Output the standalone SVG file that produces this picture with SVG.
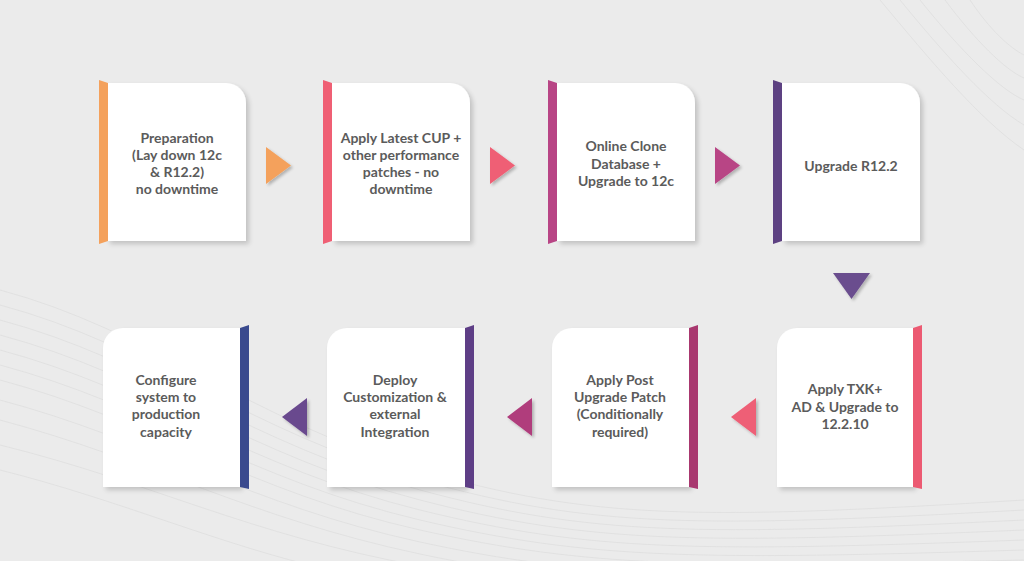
<svg xmlns="http://www.w3.org/2000/svg" width="1024" height="561" viewBox="0 0 1024 561">
<style>
.card{fill:#ffffff;}
.lbl{font-family:Lato,"Open Sans","Liberation Sans",sans-serif;font-weight:bold;font-size:14px;fill:#5b5b5b;text-anchor:middle;}
.wave{fill:none;stroke:#dcdcdc;stroke-width:0.7;}
</style>
<defs>
<filter id="sh" x="-10%" y="-10%" width="125%" height="125%">
<feGaussianBlur in="SourceAlpha" stdDeviation="2.5"/>
<feOffset dx="3" dy="3" result="b"/>
<feComponentTransfer><feFuncA type="linear" slope="0.18"/></feComponentTransfer>
<feMerge><feMergeNode/><feMergeNode in="SourceGraphic"/></feMerge>
</filter>
<filter id="ash" x="-30%" y="-30%" width="160%" height="160%">
<feGaussianBlur in="SourceAlpha" stdDeviation="1.5"/>
<feOffset dx="2" dy="2" result="b"/>
<feComponentTransfer><feFuncA type="linear" slope="0.25"/></feComponentTransfer>
<feMerge><feMergeNode/><feMergeNode in="SourceGraphic"/></feMerge>
</filter>
</defs>
<rect width="1024" height="561" fill="#ebebeb"/>
<g id="background-waves">
<path class="wave" d="M0,290 C150,330 250,420 420,470 S700,520 1024,500"/>
<path class="wave" d="M0,305 C150,345 250,432 420,480 S700,528 1024,510"/>
<path class="wave" d="M0,320 C150,360 250,444 420,490 S700,536 1024,520"/>
<path class="wave" d="M0,335 C150,375 250,456 420,500 S700,544 1024,530"/>
<path class="wave" d="M0,350 C150,390 250,468 420,510 S700,552 1024,540"/>
<path class="wave" d="M0,365 C150,405 250,480 420,520 S700,560 1024,550"/>
<path class="wave" d="M0,380 C150,420 250,492 420,530 S700,568 1024,560"/>
<path class="wave" d="M0,400 C150,440 250,505 420,542 S700,578 1024,572"/>
<path class="wave" d="M0,420 C150,460 250,518 420,554 S700,590 1024,585"/>
<path class="wave" d="M0,445 C150,482 250,535 420,566"/>
<path class="wave" d="M0,470 C120,500 220,545 330,570"/>
<path class="wave" d="M880,0 C930,60 980,120 1024,150"/>
<path class="wave" d="M900,0 C945,55 990,105 1024,125"/>
<path class="wave" d="M920,0 C960,50 1000,90 1024,100"/>
<path class="wave" d="M945,0 C975,40 1005,70 1024,78"/>
<path class="wave" d="M970,0 C990,30 1010,48 1024,55"/>
</g>
<g id="connectors">
<polygon points="266,147 291,165.5 266,184" fill="#f4a15c" filter="url(#ash)"/>
<polygon points="490,147 515,165.5 490,184" fill="#ef5f74" filter="url(#ash)"/>
<polygon points="715,147 740,165.5 715,184" fill="#b84585" filter="url(#ash)"/>
<polygon points="833,273 870,273 851.5,299" fill="#6a4e8e" filter="url(#ash)"/>
<polygon points="756,398 731,417 756,436" fill="#ee5f76" filter="url(#ash)"/>
<polygon points="532,398 507,417 532,436" fill="#b03c7c" filter="url(#ash)"/>
<polygon points="307,398 282,417 307,436" fill="#69498e" filter="url(#ash)"/>
</g>
<g id="node1">
<path class="card" filter="url(#sh)" d="M107,83 H226 A20,20 0 0 1 246,103 V241 H107 Z"/>
<polygon points="99,80 108,83 108,241 99,244" fill="#f4a15c"/>
<text class="lbl" x="177" y="143">Preparation</text>
<text class="lbl" x="177" y="160">(Lay down 12c</text>
<text class="lbl" x="177" y="177">&amp; R12.2)</text>
<text class="lbl" x="177" y="194">no downtime</text>
</g>
<g id="node2">
<path class="card" filter="url(#sh)" d="M332,83 H450 A20,20 0 0 1 470,103 V241 H332 Z"/>
<polygon points="323,80 332,83 332,241 323,244" fill="#ef5f74"/>
<text class="lbl" x="401" y="143">Apply Latest CUP +</text>
<text class="lbl" x="401" y="160">other performance</text>
<text class="lbl" x="401" y="177">patches - no</text>
<text class="lbl" x="401" y="194">downtime</text>
</g>
<g id="node3">
<path class="card" filter="url(#sh)" d="M557,83 H675 A20,20 0 0 1 695,103 V241 H557 Z"/>
<polygon points="548,80 557,83 557,241 548,244" fill="#b84585"/>
<text class="lbl" x="626" y="151">Online Clone</text>
<text class="lbl" x="626" y="169">Database +</text>
<text class="lbl" x="626" y="186">Upgrade to 12c</text>
</g>
<g id="node4">
<path class="card" filter="url(#sh)" d="M782,83 H900 A20,20 0 0 1 920,103 V241 H782 Z"/>
<polygon points="773,80 782,83 782,241 773,244" fill="#5d4182"/>
<text class="lbl" x="851" y="171">Upgrade R12.2</text>
</g>
<g id="node5">
<path class="card" filter="url(#sh)" d="M913,328 H797 A20,20 0 0 0 777,348 V487 H913 Z"/>
<polygon points="922,325 913,328 913,487 922,489" fill="#ec5a72"/>
<text class="lbl" x="845" y="394">Apply TXK+</text>
<text class="lbl" x="845" y="412">AD &amp; Upgrade to</text>
<text class="lbl" x="845" y="429">12.2.10</text>
</g>
<g id="node6">
<path class="card" filter="url(#sh)" d="M689,328 H572 A20,20 0 0 0 552,348 V487 H689 Z"/>
<polygon points="698,325 689,328 689,487 698,489" fill="#a8386f"/>
<text class="lbl" x="620" y="385">Apply Post</text>
<text class="lbl" x="620" y="402">Upgrade Patch</text>
<text class="lbl" x="620" y="419">(Conditionally</text>
<text class="lbl" x="620" y="437">required)</text>
</g>
<g id="node7">
<path class="card" filter="url(#sh)" d="M465,328 H347 A20,20 0 0 0 327,348 V487 H465 Z"/>
<polygon points="474,325 465,328 465,487 474,489" fill="#5e3e86"/>
<text class="lbl" x="395" y="385">Deploy</text>
<text class="lbl" x="395" y="402">Customization &amp;</text>
<text class="lbl" x="395" y="419">external</text>
<text class="lbl" x="395" y="437">Integration</text>
</g>
<g id="node8">
<path class="card" filter="url(#sh)" d="M240,328 H123 A20,20 0 0 0 103,348 V487 H240 Z"/>
<polygon points="249,325 240,328 240,487 249,489" fill="#3a4a8e"/>
<text class="lbl" x="166" y="385">Configure</text>
<text class="lbl" x="166" y="402">system to</text>
<text class="lbl" x="166" y="419">production</text>
<text class="lbl" x="166" y="437">capacity</text>
</g>
</svg>
